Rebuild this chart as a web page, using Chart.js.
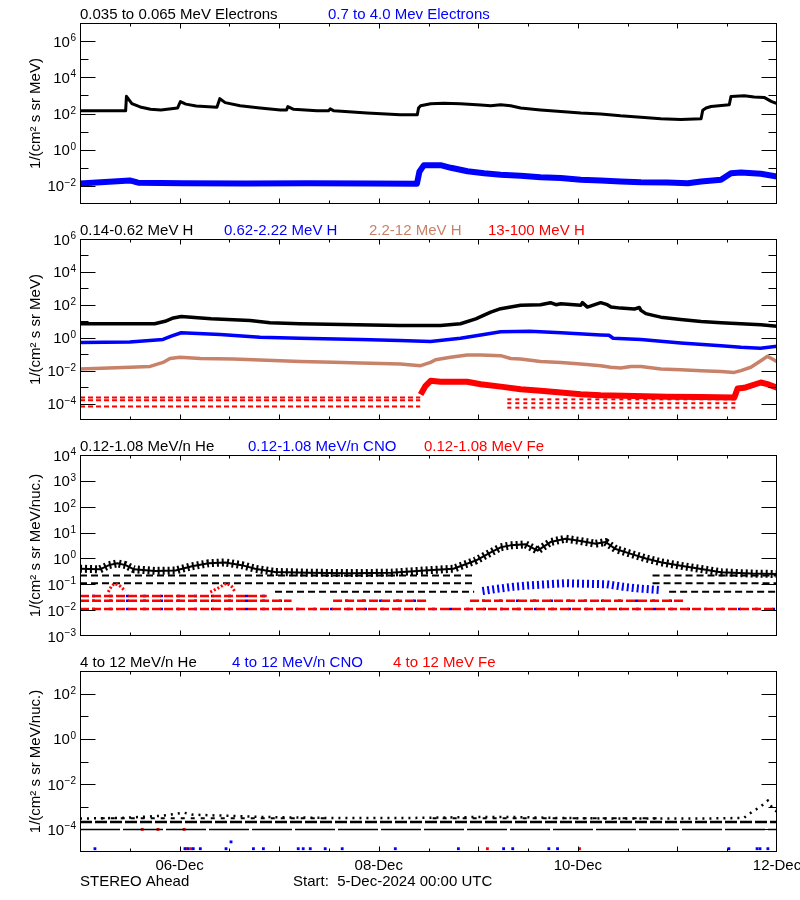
<!DOCTYPE html>
<html><head><meta charset="utf-8">
<script src="https://cdn.jsdelivr.net/npm/chart.js@4.4.1/dist/chart.umd.min.js"></script>
<style>
html,body{margin:0;padding:0;background:#fff;}
#wrap{position:relative;width:800px;height:900px;background:#fff;}
canvas{position:absolute;left:0;}
</style></head>
<body><div id="wrap">
<canvas id="c1" width="800" height="216" style="top:0px"></canvas>
<canvas id="c2" width="800" height="216" style="top:216px"></canvas>
<canvas id="c3" width="800" height="216" style="top:432px"></canvas>
<canvas id="c4" width="800" height="252" style="top:648px"></canvas>
</div>
<script>
// ================= DATA (hours since 5-Dec-2024 00:00 UTC) =================
const dayTickHours = [24, 48, 72, 96, 120, 144];
const halfDayTickHours = [12, 36, 60, 84, 108, 132, 156];
const dateLabelHours = [24, 72, 120, 168];
const dateLabels = ['06-Dec', '08-Dec', '10-Dec', '12-Dec'];

// Panel 1: electrons
const eLowT = [0,11.0,11.2,12.5,14.5,17,19.5,23.5,24.2,25.5,28,33.0,33.7,35,38.6,43.4,48.3,49.8,50.1,51.5,57.1,59.9,60.3,61.2,69.2,77.2,81.3,81.6,82.1,84.5,87.7,91.7,96.6,99,101.4,103.8,106.2,111,115.9,120.7,125.5,130.3,135.2,140,144.8,149.7,150.1,150.9,152.1,156.5,156.9,160.1,162.5,164.9,166.6,168];
const eLowV = [141,141,890,350,230,170,155,200,450,330,260,220,660,400,265,200,158,158,240,170,141,141,180,141,105,85,85,200,269,347,363,347,295,269,302,269,200,158,129,105,93,74,63,51,47,51,150,200,245,302,870,955,813,776,468,347];
const eHighT = [0,12,14,25,40,55,70,81.2,81.8,82.9,86.9,89.4,93.4,97.4,101.4,106.2,111,115.9,120.7,125.5,130.3,135.2,141.6,146.5,149.7,154.5,156.9,159.3,164.1,168];
const eHighV = [0.0135,0.02,0.015,0.014,0.0135,0.014,0.0135,0.013,0.06,0.14,0.14,0.1,0.065,0.05,0.041,0.036,0.03,0.027,0.022,0.02,0.0175,0.016,0.0155,0.014,0.0175,0.022,0.05,0.055,0.047,0.033];

// Panel 2: protons
const h1T = [0,18,20.5,22.5,24.4,31.6,41,45.8,53,77,86.9,91.7,95.4,99,101.4,106.2,111,113.4,114.7,115.9,120.7,121.1,122.3,125.5,127.1,128,130.3,133.6,134.8,135.2,136.4,138.4,140,144.8,149.7,154.5,159.3,164.1,168];
const h1V = [7.1,7.1,10,16,19.5,14,11.2,8.1,7.1,5.5,5.5,7.1,14,36,58,93,102,135,102,117,93,135,73,135,102,73,63,55,69,46,29,22,17.8,12.9,9.8,8.1,7.1,6.2,5.0];
const h2T = [0,12,20,22,24.4,33.8,43.4,53,67.6,77,84.5,91.7,96.6,101.4,108.4,116,125.5,127.5,128.5,135.2,144.8,154.5,159.3,164,168];
const h2V = [0.52,0.55,0.79,1.26,2.0,1.55,1.07,0.93,0.78,0.68,0.59,0.93,1.48,2.34,2.45,2.0,1.48,1.41,0.93,0.78,0.48,0.33,0.26,0.23,0.30];
const h3T = [0,12.1,16.9,20,21.7,24.1,29,37,43.4,53.1,61.1,67.6,77.2,82.1,84.5,85.7,89.3,93.3,96.6,101.4,103.8,106.2,111,115.9,120.7,125.5,127.9,130.3,132.8,135.2,140,144.8,149.7,154.5,157.7,159.3,161.7,164.1,165.7,166.9,168];
const h3V = [0.0126,0.016,0.018,0.0316,0.055,0.065,0.055,0.051,0.044,0.036,0.032,0.029,0.025,0.020,0.0316,0.046,0.065,0.089,0.089,0.081,0.055,0.051,0.036,0.0316,0.025,0.02,0.016,0.0145,0.018,0.018,0.0126,0.0112,0.01,0.0089,0.0078,0.01,0.016,0.04,0.074,0.051,0.035];
const h4T = [82.1,83.3,84.5,86.9,93.3,96.6,101.4,106.2,111,115.9,120.7,125.5,133.6,141.6,149.7,157.7,158.5,160.1,164.1,165.7,168];
const h4V = [3.5e-4,1.2e-3,2.4e-3,2.1e-3,2.1e-3,1.5e-3,1.07e-3,7.4e-4,5.9e-4,4.7e-4,3.7e-4,3.2e-4,2.9e-4,2.6e-4,2.5e-4,2.3e-4,8.1e-4,9e-4,1.9e-3,1.5e-3,9.3e-4];
const h4FloorEarlyLevels = [2.3e-4, 1.6e-4, 6.5e-5];
const h4FloorEarlyHours = [0, 82];
const h4FloorLateLevels = [1.8e-4, 1.05e-4, 5.6e-5];
const h4FloorLateHours = [103, 158];

// Panel 3: 0.12-1.08 MeV/n heavy ions
const heT = [0,4.8,7,9,11,13,18,23,27,31,35,39,42.2,47,55,65,75,84,90,95.4,99,101.4,103.8,107.4,110.3,113.4,117,120.7,124.3,126.7,129.1,132.8,136.4,140,144.8,149.7,154.5,161.7,168];
const heV = [0.4,0.38,0.55,0.65,0.55,0.38,0.33,0.34,0.5,0.65,0.7,0.55,0.4,0.3,0.28,0.27,0.28,0.35,0.4,0.83,1.7,2.7,3.2,3.5,2.0,4.3,5.8,4.7,3.7,4.3,2.3,1.5,1.0,0.71,0.52,0.39,0.29,0.26,0.25];
const heRowLevels = [0.22, 0.11, 0.052];
const heRowHours = [[[0,95],[138,168]], [[0,95],[138,168]], [[47,95],[142,168]]];
const ionRowLevels = [0.011, 0.023, 0.035];
const ionRowHours = [[[0,168]], [[0,51],[61,84],[94,146]], [[0,45]]];
const cnoT = [97,100,104.4,108,112.5,117,122,127,131,135,139.8];
const cnoV = [0.055,0.065,0.08,0.09,0.1,0.11,0.105,0.1,0.08,0.068,0.06];
const feT = [6.8,7.6,8.3,9.5,10.9,null,31.4,33.2,35.3,36.5,37.4];
const feV = [0.05,0.085,0.107,0.09,0.055,null,0.05,0.07,0.11,0.085,0.05];

// Panel 4: 4-12 MeV/n heavy ions
const he4RowLevels = [1.0e-4, 2.1e-4, 3.1e-4];
const he4RowHours = [[[0,168]], [[0,168]], [[5,60],[85,140]]];
const he4T = [0,10,20,25,27,35,45,60,80,95,105,115,130,150,160,162,164,165.8,167,168];
const he4V = [3e-4,3.2e-4,4e-4,5.5e-4,4.5e-4,4e-4,3.5e-4,3.2e-4,3.2e-4,3.5e-4,3.5e-4,3.2e-4,3e-4,3e-4,3.2e-4,6e-4,1.0e-3,1.9e-3,8e-4,6e-4];
const cno4T = [3.6,25.3,26.1,27.3,29.0,35.2,36.4,41.8,44.2,52.6,53.8,55.5,59.1,63.2,76.0,91.2,102.1,104.3,113.0,115.1,156.4,163.2,163.9,165.8];
const cno4V = [1.4e-5,1.4e-5,1.4e-5,1.4e-5,1.4e-5,1.4e-5,2.8e-5,1.4e-5,1.4e-5,1.4e-5,1.4e-5,1.4e-5,1.4e-5,1.4e-5,1.4e-5,1.4e-5,1.4e-5,1.4e-5,1.4e-5,1.4e-5,1.4e-5,1.4e-5,1.4e-5,1.4e-5];
const fe4T = [15.0,18.8,25.1,25.6,26.8,98.2,120.4];
const fe4V = [1.0e-4,1.0e-4,1.0e-4,1.4e-5,1.4e-5,1.4e-5,1.4e-5];

// ================= STYLE / HELPERS =================
const BLACK = '#000000', BLUE = '#0000ff', RED = '#ff0000', BROWN = '#c8826a';
const FONT = '"Liberation Sans", Arial, sans-serif';

function pts(T, V) { return T.map((t, i) => ({x: t === null ? NaN : t, y: V[i]})); }
function rowPts(level, segs) {
  const out = [];
  segs.forEach((s, i) => {
    if (i > 0) out.push({x: (segs[i-1][1] + s[0]) / 2, y: null});
    out.push({x: s[0], y: level}); out.push({x: s[1], y: level});
  });
  return out;
}
function lineDs(data, color, width, dash, dashOffset) {
  return {type: 'line', data, borderColor: color, backgroundColor: color, borderWidth: width,
    borderDash: dash || [], borderDashOffset: dashOffset || 0, pointRadius: 0, tension: 0,
    spanGaps: false, fill: false, borderCapStyle: 'butt', borderJoinStyle: 'round'};
}
function dotDs(data, color, r) {
  return {type: 'scatter', data, borderColor: color, backgroundColor: color, pointStyle: 'rect',
    pointRadius: r, borderWidth: 0, showLine: false};
}

const idlAxes = {
  id: 'idlAxes',
  afterDatasetsDraw(chart, args, o) {
    const ctx = chart.ctx, a = chart.chartArea, xs = chart.scales.x, ys = chart.scales.y;
    ctx.save();
    ctx.strokeStyle = '#000'; ctx.lineWidth = 1;
    const L = Math.round(a.left) + 0.5, R = Math.round(a.right) - 0.5;
    const T = Math.round(a.top) + 0.5, B = Math.round(a.bottom) - 0.5;
    ctx.strokeRect(L, T, R - L, B - T);
    ctx.beginPath();
    const yt = (e, len) => {
      const p = Math.round(ys.getPixelForValue(Math.pow(10, e))) + 0.5;
      ctx.moveTo(L, p); ctx.lineTo(L + len, p); ctx.moveTo(R, p); ctx.lineTo(R - len, p);
    };
    o.majors.forEach(e => yt(e, 15));
    o.minors.forEach(e => yt(e, 8));
    const xt = (h, len) => {
      const p = Math.round(xs.getPixelForValue(h)) + 0.5;
      ctx.moveTo(p, T); ctx.lineTo(p, T + len); ctx.moveTo(p, B); ctx.lineTo(p, B - len);
    };
    dayTickHours.forEach(h => xt(h, 5));
    halfDayTickHours.forEach(h => xt(h, 3));
    ctx.stroke();

    ctx.fillStyle = '#000';
    ctx.textBaseline = 'alphabetic';
    o.labels.forEach(e => {
      const p = ys.getPixelForValue(Math.pow(10, e));
      const ex = String(e).replace('-', '\u2212');
      ctx.font = '10px ' + FONT;
      const w = ctx.measureText(ex).width;
      const right = a.left - 4;
      ctx.textAlign = 'left';
      ctx.fillText(ex, right - w, p);
      ctx.font = '15px ' + FONT;
      ctx.textAlign = 'right';
      ctx.fillText('10', right - w - 0.5, p + 5.5);
    });

    ctx.font = '15px ' + FONT;
    ctx.textAlign = 'left';
    o.title.forEach(t => { ctx.fillStyle = t.color; ctx.fillText(t.text, t.x, 18.5); });

    ctx.save();
    ctx.fillStyle = '#000';
    ctx.translate(40, (a.top + a.bottom) / 2);
    ctx.rotate(-Math.PI / 2);
    ctx.textAlign = 'center';
    ctx.fillText(o.yTitle, 0, 0);
    ctx.restore();

    if (o.bottom) {
      ctx.fillStyle = '#000';
      ctx.textAlign = 'center';
      dateLabelHours.forEach((h, i) => ctx.fillText(dateLabels[i], xs.getPixelForValue(h), a.bottom + 18));
      ctx.textAlign = 'left';
      ctx.fillText('STEREO Ahead', 80, a.bottom + 34);
      ctx.fillText('Start:  5-Dec-2024 00:00 UTC', 293, a.bottom + 34);
    }
    ctx.restore();
  }
};

function makeChart(id, h, yMin, yMax, datasets, axOpts) {
  return new Chart(document.getElementById(id), {
    type: 'line',
    data: {datasets},
    options: {
      responsive: false, animation: false, devicePixelRatio: 1, events: [],
      layout: {padding: {left: 80, right: 23, top: 23, bottom: h - 204}},
      plugins: {legend: {display: false}, tooltip: {enabled: false}, title: {display: false}, idlAxes: axOpts},
      scales: {
        x: {type: 'linear', min: 0, max: 168, display: false},
        y: {type: 'logarithmic', min: yMin, max: yMax, display: false}
      }
    },
    plugins: [idlAxes]
  });
}

// ================= PANEL 1 =================
makeChart('c1', 216, 1e-3, 1e7, [
  lineDs(pts(eHighT, eHighV), BLUE, 6),
  lineDs(pts(eLowT, eLowV), BLACK, 3),
], {
  majors: [-2, 0, 2, 4, 6], minors: [-1, 1, 3, 5], labels: [-2, 0, 2, 4, 6],
  yTitle: '1/(cm\u00b2 s sr MeV)',
  title: [{text: '0.035 to 0.065 MeV Electrons', color: BLACK, x: 80},
          {text: '0.7 to 4.0 Mev Electrons', color: BLUE, x: 328}]
});

// ================= PANEL 2 =================
const p2Sets = [];
h4FloorEarlyLevels.forEach(l => p2Sets.push(lineDs(rowPts(l, [h4FloorEarlyHours]), RED, 2, [5, 3])));
h4FloorLateLevels.forEach(l => p2Sets.push(lineDs(rowPts(l, [h4FloorLateHours]), RED, 2, [4, 4])));
p2Sets.push(lineDs(pts(h4T, h4V), RED, 6));
p2Sets.push(lineDs(pts(h3T, h3V), BROWN, 3.5));
p2Sets.push(lineDs(pts(h2T, h2V), BLUE, 3.5));
p2Sets.push(lineDs(pts(h1T, h1V), BLACK, 3.5));
makeChart('c2', 216, 1e-5, 1e6, p2Sets, {
  majors: [-4, -2, 0, 2, 4], minors: [-3, -1, 1, 3, 5], labels: [-4, -2, 0, 2, 4, 6],
  yTitle: '1/(cm\u00b2 s sr MeV)',
  title: [{text: '0.14-0.62 MeV H', color: BLACK, x: 80},
          {text: '0.62-2.22 MeV H', color: BLUE, x: 224},
          {text: '2.2-12 MeV H', color: BROWN, x: 369},
          {text: '13-100 MeV H', color: RED, x: 488}]
});

// ================= PANEL 3 =================
const p3Sets = [];
ionRowLevels.forEach((l, i) => p3Sets.push(lineDs(rowPts(l, ionRowHours[i]), RED, 2.5, [9, 3])));
ionRowLevels.forEach((l, i) => p3Sets.push(lineDs(rowPts(l, ionRowHours[i]), BLUE, 2.5, [3, 14], 5)));
p3Sets.push(lineDs(pts(feT, feV), RED, 3, [2, 2]));
p3Sets.push(lineDs(pts(cnoT, cnoV), BLUE, 8, [2, 3]));
heRowLevels.forEach((l, i) => p3Sets.push(lineDs(rowPts(l, heRowHours[i]), BLACK, 2, [7, 4])));
p3Sets.push(lineDs(pts(heT, heV), BLACK, 8, [2, 3]));
p3Sets.push(lineDs(pts(heT, heV), BLACK, 2));
makeChart('c3', 216, 1e-3, 1e4, p3Sets, {
  majors: [-2, -1, 0, 1, 2, 3], minors: [], labels: [-3, -2, -1, 0, 1, 2, 3, 4],
  yTitle: '1/(cm\u00b2 s sr MeV/nuc.)',
  title: [{text: '0.12-1.08 MeV/n He', color: BLACK, x: 80},
          {text: '0.12-1.08 MeV/n CNO', color: BLUE, x: 248},
          {text: '0.12-1.08 MeV Fe', color: RED, x: 424}]
});

// ================= PANEL 4 =================
const p4Sets = [];
p4Sets.push(lineDs(rowPts(he4RowLevels[0], he4RowHours[0]), BLACK, 1.5, [40, 3]));
p4Sets.push(lineDs(rowPts(he4RowLevels[1], he4RowHours[1]), BLACK, 2.5, [12, 3]));
p4Sets.push(lineDs(rowPts(he4RowLevels[2], he4RowHours[2]), BLACK, 2, [4, 6]));
p4Sets.push(lineDs(pts(he4T, he4V), BLACK, 2.5, [2, 5]));
p4Sets.push(dotDs(pts(cno4T, cno4V), BLUE, 2));
p4Sets.push(dotDs(pts(fe4T, fe4V), RED, 2));
makeChart('c4', 252, 1e-5, 1e3, p4Sets, {
  majors: [-4, -2, 0, 2], minors: [-3, -1, 1], labels: [-4, -2, 0, 2],
  yTitle: '1/(cm\u00b2 s sr MeV/nuc.)', bottom: true,
  title: [{text: '4 to 12 MeV/n He', color: BLACK, x: 80},
          {text: '4 to 12 MeV/n CNO', color: BLUE, x: 232},
          {text: '4 to 12 MeV Fe', color: RED, x: 393}]
});
</script>
</body></html>
